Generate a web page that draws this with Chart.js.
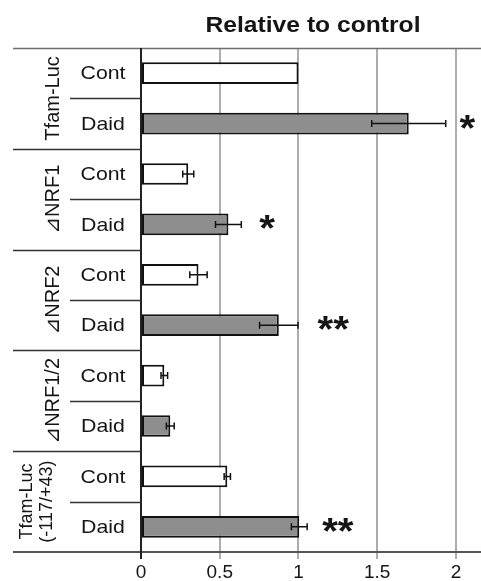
<!DOCTYPE html>
<html>
<head>
<meta charset="utf-8">
<script src="https://cdn.jsdelivr.net/npm/chart.js@4.4.1/dist/chart.umd.min.js"></script>
<style>
  html, body { margin: 0; padding: 0; background: #fff; }
  #wrap { width: 481px; height: 581px; }
</style>
</head>
<body>
<div id="wrap"><canvas id="c" width="481" height="581"></canvas></div>
<script>
// ---- data ----
const categories = ['Cont', 'Daid', 'Cont', 'Daid', 'Cont', 'Daid', 'Cont', 'Daid', 'Cont', 'Daid'];
const groupLabels = [['Tfam-Luc'], ['\u22BFNRF1'], ['\u22BFNRF2'], ['\u22BFNRF1/2'], ['Tfam-Luc', '(-117/+43)']];
const values = [1.00, 1.70, 0.30, 0.555, 0.365, 0.875, 0.148, 0.186, 0.548, 1.005];
const errors = [0, 0.235, 0.035, 0.082, 0.055, 0.122, 0.021, 0.025, 0.02, 0.05];
const signif = ['', '*', '', '*', '', '**', '', '', '', '**'];
const signifAt = [null, 2.073, null, 0.80, null, 1.22, null, null, null, 1.25];
const tickValues = [0, 0.5, 1, 1.5, 2];
const tickLabels = ['0', '0.5', '1', '1.5', '2'];
const titleText = 'Relative to control';

// ---- styles ----
const FONT = '"Liberation Sans", Arial, "DejaVu Sans", "Noto Sans CJK JP", sans-serif';
const TXT = '#151515';
const SX = 1.12; // horizontal stretch of the original image

function sText(ctx, txt, x, y, font, align, baseline) {
  ctx.save();
  ctx.translate(x, y);
  ctx.scale(SX, 1);
  ctx.font = font;
  ctx.fillStyle = TXT;
  ctx.textAlign = align;
  ctx.textBaseline = baseline;
  ctx.fillText(txt, 0, 0);
  ctx.restore();
}

const decor = {
  id: 'decor',
  beforeDatasetsDraw(chart) {
    const ctx = chart.ctx, a = chart.chartArea;
    ctx.save();
    ctx.strokeStyle = '#6e6e6e';
    ctx.lineWidth = 1.5;
    ctx.beginPath(); ctx.moveTo(13, a.top + 0.5); ctx.lineTo(481, a.top + 0.5); ctx.stroke();
    ctx.restore();
  },
  afterDatasetsDraw(chart) {
    const ctx = chart.ctx, a = chart.chartArea;
    const xs = chart.scales.x;
    const meta = chart.getDatasetMeta(0);
    ctx.save();
    // error bars
    ctx.strokeStyle = '#111';
    ctx.lineWidth = 1.5;
    meta.data.forEach((bar, i) => {
      const e = errors[i];
      if (!e) return;
      const y = bar.y;
      const x1 = xs.getPixelForValue(values[i] - e);
      const x2 = xs.getPixelForValue(values[i] + e);
      ctx.beginPath();
      ctx.moveTo(x1, y); ctx.lineTo(x2, y);
      ctx.moveTo(x1, y - 3.5); ctx.lineTo(x1, y + 3.5);
      ctx.moveTo(x2, y - 3.5); ctx.lineTo(x2, y + 3.5);
      ctx.stroke();
    });
    // significance stars
    meta.data.forEach((bar, i) => {
      if (!signif[i]) return;
      sText(ctx, signif[i], xs.getPixelForValue(signifAt[i]), bar.y + 7, 'bold 36px ' + FONT, 'center', 'middle');
    });
    // bottom line
    ctx.strokeStyle = '#555';
    ctx.lineWidth = 2;
    ctx.beginPath(); ctx.moveTo(13, a.bottom); ctx.lineTo(481, a.bottom); ctx.stroke();
    // y axis line
    ctx.strokeStyle = '#222';
    ctx.lineWidth = 2;
    ctx.beginPath(); ctx.moveTo(a.left, a.top); ctx.lineTo(a.left, a.bottom + 7); ctx.stroke();

    // left label table
    const n = categories.length;
    const rowH = (a.bottom - a.top) / n;
    ctx.strokeStyle = '#333';
    ctx.lineWidth = 1.5;
    for (let i = 1; i < n; i++) {
      const y = Math.round(a.top + i * rowH) + 0.5;
      ctx.beginPath();
      ctx.moveTo(i % 2 === 0 ? 13 : 70, y);
      ctx.lineTo(a.left, y);
      ctx.stroke();
    }
    // Cont / Daid
    meta.data.forEach((bar, i) => {
      sText(ctx, categories[i], 103, bar.y + 1, '19px ' + FONT, 'center', 'middle');
    });
    // group labels (rotated)
    groupLabels.forEach((lines, g) => {
      const yc = a.top + (2 * g + 1) * rowH;
      const single = lines.length === 1;
      const xsPos = single ? [53] : [27, 47];
      lines.forEach((t, k) => {
        ctx.save();
        ctx.translate(xsPos[k], yc);
        ctx.rotate(-Math.PI / 2);
        ctx.font = (single ? '20px ' : '18px ') + FONT;
        ctx.fillStyle = TXT;
        ctx.textAlign = 'center';
        ctx.textBaseline = 'middle';
        ctx.fillText(t, 0, 0);
        ctx.restore();
      });
    });
    // title
    sText(ctx, titleText, 313, 32, 'bold 22px ' + FONT, 'center', 'alphabetic');
    ctx.restore();
  }
};

new Chart(document.getElementById('c'), {
  type: 'bar',
  data: {
    labels: categories,
    datasets: [{
      data: values,
      backgroundColor: categories.map(c => c === 'Cont' ? '#ffffff' : '#8e8e8e'),
      borderColor: '#111',
      borderWidth: 2,
      borderSkipped: false,
      barPercentage: 0.43,
      categoryPercentage: 1.0
    }]
  },
  options: {
    indexAxis: 'y',
    responsive: false,
    animation: false,
    devicePixelRatio: 1,
    layout: { padding: { left: 141, top: 48, right: 0, bottom: 0 } },
    plugins: { legend: { display: false }, tooltip: { enabled: false }, title: { display: false } },
    scales: {
      x: {
        type: 'linear',
        min: 0,
        max: 2.159,
        afterBuildTicks: s => { s.ticks = tickValues.map(v => ({ value: v })); },
        afterFit: s => { s.height = 29; },
        border: { display: false },
        grid: {
          drawTicks: true,
          tickLength: 7,
          lineWidth: 2,
          color: c => (c.tick && c.tick.value === 0) ? 'rgba(0,0,0,0)' : '#adadad'
        },
        ticks: {
          padding: 2,
          color: TXT,
          font: { family: FONT, size: 19 },
          maxRotation: 0,
          autoSkip: false,
          callback: v => tickLabels[tickValues.indexOf(v)]
        }
      },
      y: {
        type: 'category',
        offset: true,
        afterFit: s => { s.width = 0; },
        grid: { display: false },
        border: { display: false },
        ticks: { display: false }
      }
    }
  },
  plugins: [decor]
});
</script>
</body>
</html>
